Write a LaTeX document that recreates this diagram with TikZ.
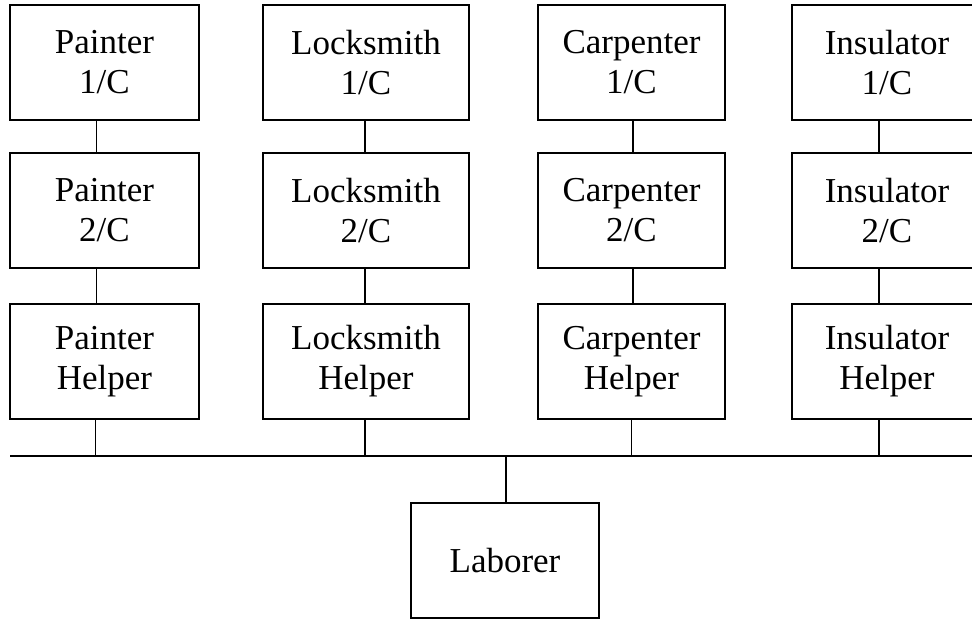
\documentclass[tikz,border=0pt]{standalone}
\usepackage{fontspec}
\setmainfont{Liberation Serif}
\begin{document}
\begin{tikzpicture}[x=1pt,y=-1pt,
  trade/.style={draw, line width=1.6pt, inner sep=0pt, align=center,
    minimum height=115pt, font=\fontsize{35}{40}\selectfont},
  link/.style={line width=1.2pt}]
\useasboundingbox (0,0) rectangle (972,620);
\clip (0,0) rectangle (972,620);

% Painter column
\node[trade, minimum width=189pt] (p1) at (104.5,62.5)  {Painter\\1/C};
\node[trade, minimum width=189pt] (p2) at (104.5,210.5) {Painter\\2/C};
\node[trade, minimum width=189pt] (p3) at (104.5,361.5) {Painter\\Helper};

% Locksmith column
\node[trade, minimum width=206pt] (l1) at (366,62.5)  {Locksmith\\1/C};
\node[trade, minimum width=206pt] (l2) at (366,210.5) {Locksmith\\2/C};
\node[trade, minimum width=206pt] (l3) at (366,361.5) {Locksmith\\Helper};

% Carpenter column
\node[trade, minimum width=187pt] (c1) at (631.5,62.5)  {Carpenter\\1/C};
\node[trade, minimum width=187pt] (c2) at (631.5,210.5) {Carpenter\\2/C};
\node[trade, minimum width=187pt] (c3) at (631.5,361.5) {Carpenter\\Helper};

% Insulator column (runs past the right edge)
\node[trade, minimum width=190pt] (i1) at (887,62.5)  {Insulator\\1/C};
\node[trade, minimum width=190pt] (i2) at (887,210.5) {Insulator\\2/C};
\node[trade, minimum width=190pt] (i3) at (887,361.5) {Insulator\\Helper};

% Laborer
\node[trade, minimum width=188pt] (lab) at (505,560.5) {Laborer};

% common bus line
\coordinate (busL) at (10,456);
\coordinate (busR) at (975,456);
\draw[link] (busL) -- (busR);

% vertical links inside each column
\draw[link] ([xshift=-8pt]p1.south) -- ([xshift=-8pt]p2.north);
\draw[link] ([xshift=-8pt]p2.south) -- ([xshift=-8pt]p3.north);
\draw[link] ([xshift=-9pt]p3.south) -- ([xshift=-9pt]p3.south |- busL);

\draw[link] ([xshift=-1pt]l1.south) -- ([xshift=-1pt]l2.north);
\draw[link] ([xshift=-1pt]l2.south) -- ([xshift=-1pt]l3.north);
\draw[link] ([xshift=-1pt]l3.south) -- ([xshift=-1pt]l3.south |- busL);

\draw[link] ([xshift=1.5pt]c1.south) -- ([xshift=1.5pt]c2.north);
\draw[link] ([xshift=1.5pt]c2.south) -- ([xshift=1.5pt]c3.north);
\draw[link] ([xshift=0pt]c3.south) -- ([xshift=0pt]c3.south |- busL);

\draw[link] ([xshift=-8pt]i1.south) -- ([xshift=-8pt]i2.north);
\draw[link] ([xshift=-8pt]i2.south) -- ([xshift=-8pt]i3.north);
\draw[link] ([xshift=-8pt]i3.south) -- ([xshift=-8pt]i3.south |- busL);

% bus down to Laborer
\draw[link] ([xshift=1pt]lab.north |- busL) -- ([xshift=1pt]lab.north);
\end{tikzpicture}
\end{document}
